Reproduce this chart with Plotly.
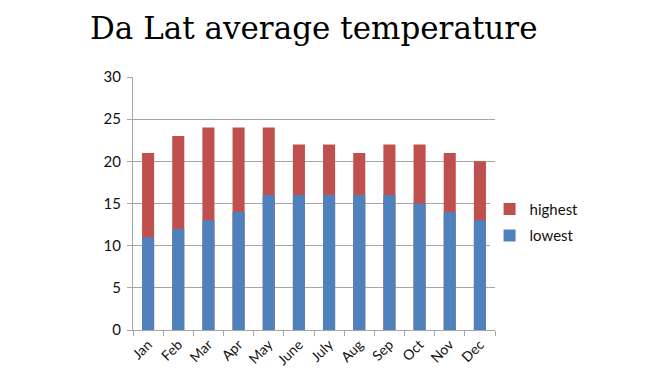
import plotly.graph_objects as go

months = ["Jan", "Feb", "Mar", "Apr", "May", "June", "July", "Aug", "Sep", "Oct", "Nov", "Dec"]
highest = [21, 23, 24, 24, 24, 22, 22, 21, 22, 22, 21, 20]
lowest = [11, 12, 13, 14, 16, 16, 16, 16, 16, 15, 14, 13]

fig = go.Figure()
fig.add_trace(go.Bar(x=months, y=highest, name="highest", marker_color="#C0504D",
                     marker_line_width=0, legendgroup="h"))
fig.add_trace(go.Bar(x=months, y=lowest, name="lowest", marker_color="#4F81BD",
                     marker_line_width=0, legendgroup="l"))

# page has an 8px body margin, so the figure is sized to fit the 653x374 window
fig.update_layout(
    width=645, height=366,
    barmode="overlay", bargap=0.6,
    paper_bgcolor="white", plot_bgcolor="white",
    margin=dict(l=125, r=158, t=69, b=44),
    title=dict(text="Da Lat average temperature", x=0.474, xanchor="center", y=0.946, yanchor="middle",
               font=dict(family="DejaVu Serif, serif", size=31, color="black")),
    font=dict(family="Lato, Open Sans, sans-serif", size=14, color="#111"),
    legend=dict(x=0.985, y=0.426, xanchor="left", yanchor="middle", tracegroupgap=4,
                font=dict(family="Lato, sans-serif", size=15, color="#111"), itemwidth=30),
    showlegend=True,
)
fig.update_yaxes(range=[0, 30], dtick=5, showgrid=True, gridcolor="#A6A6A6", gridwidth=1,
                 showline=True, linecolor="#A6A6A6", ticks="outside", tickcolor="#A6A6A6",
                 ticklen=5, zeroline=False, tickfont=dict(size=15), ticklabelstandoff=3,
                 automargin=False)
fig.update_xaxes(showline=True, linecolor="#A6A6A6", ticks="outside", tickcolor="#A6A6A6",
                 ticklen=5, tickson="boundaries", tickangle=-45, tickfont=dict(size=14),
                 automargin=False)

fig.write_html("out.html")
